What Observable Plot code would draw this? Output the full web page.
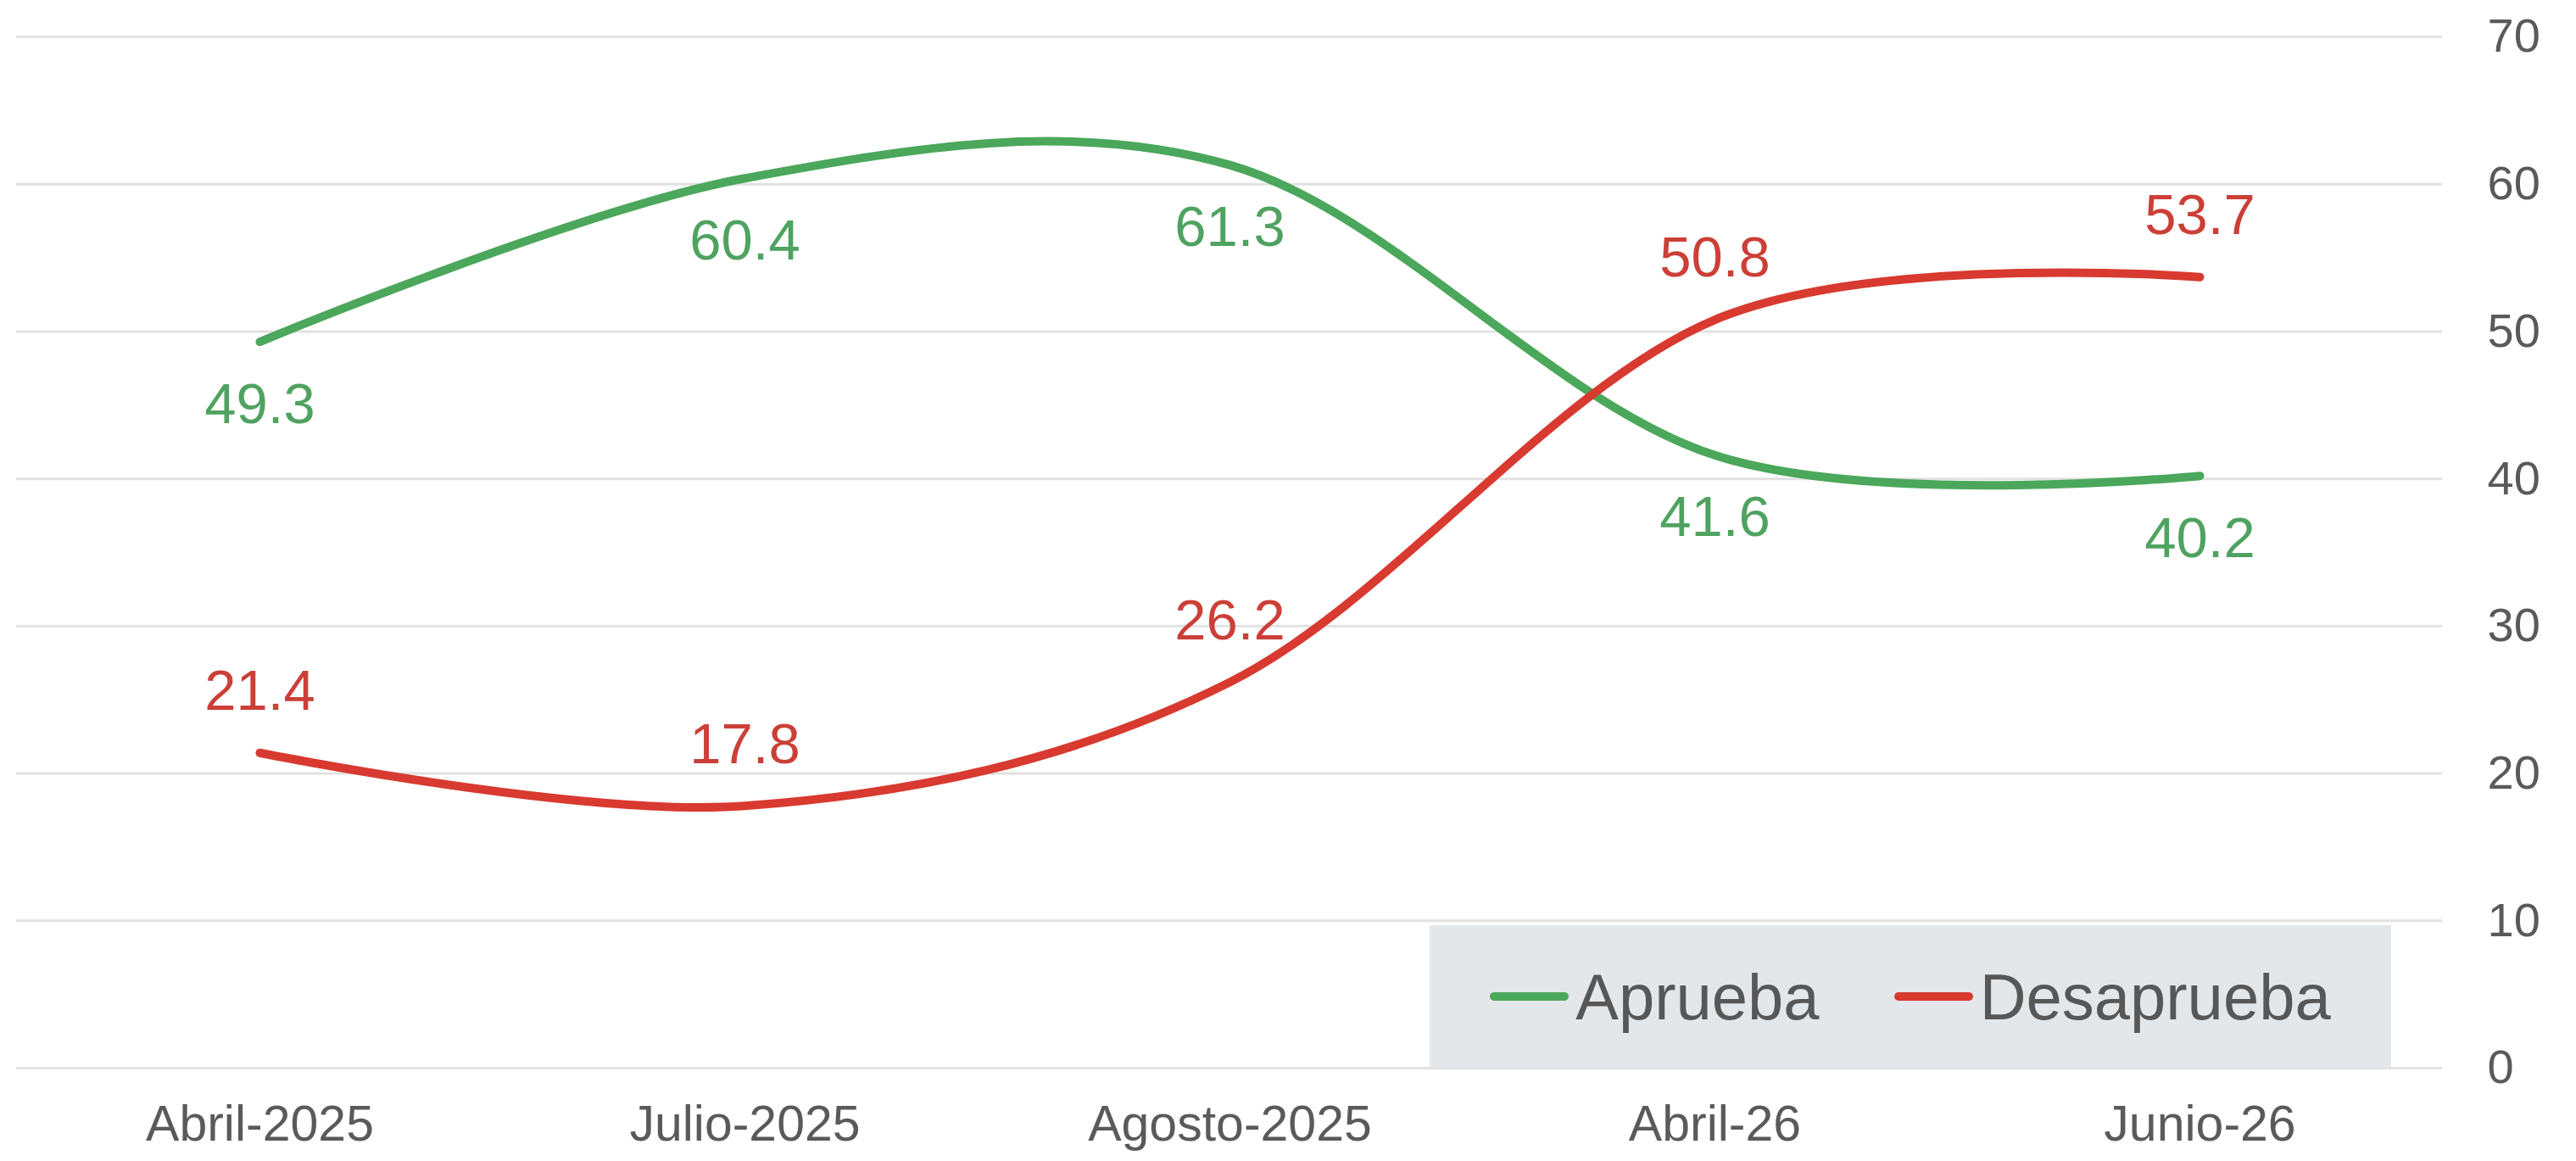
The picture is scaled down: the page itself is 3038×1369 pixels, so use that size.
<!DOCTYPE html>
<html>
<head>
<meta charset="utf-8">
<script src="https://cdn.jsdelivr.net/npm/d3@7"></script>
<script src="https://cdn.jsdelivr.net/npm/@observablehq/plot@0.6"></script>
<style>
  html, body { margin: 0; padding: 0; background: #fff; }
  #wrap { position: relative; width: 3038px; height: 1369px; font-family: "Liberation Sans", Arial, sans-serif; }
  #legend { position: absolute; left: 1686px; top: 1091px; width: 1134px; height: 168px; background: #e4e7ea;
            display: flex; align-items: center; justify-content: center; font-size: 76px; color: #575757; }
  .item { display: flex; align-items: center; }
  .sw { width: 93px; height: 10px; border-radius: 5px; margin-right: 8px; }
</style>
</head>
<body>
<div id="wrap"></div>
<script>
const categories = ["Abril-2025", "Julio-2025", "Agosto-2025", "Abril-26", "Junio-26"];
const aprueba = [49.3, 60.4, 61.3, 41.6, 40.2];
const desaprueba = [21.4, 17.8, 26.2, 50.8, 53.7];
const yTicks = [0, 10, 20, 30, 40, 50, 60, 70];
const seriesNames = ["Aprueba", "Desaprueba"];
const colors = {Aprueba: "#4ba75b", Desaprueba: "#d83a30"};
const labelColors = {Aprueba: "#4fa260", Desaprueba: "#cc3f37"};

const rows = [];
categories.forEach((c, i) => {
  rows.push({cat: c, serie: "Aprueba", value: aprueba[i]});
  rows.push({cat: c, serie: "Desaprueba", value: desaprueba[i]});
});
const ap = rows.filter(d => d.serie === "Aprueba");
const de = rows.filter(d => d.serie === "Desaprueba");
const curve = d3.curveCatmullRom.alpha(0);

const chart = Plot.plot({
  width: 3038,
  height: 1369,
  marginLeft: 19,
  marginRight: 158,
  marginTop: 43,
  marginBottom: 110,
  style: {fontFamily: "Liberation Sans, Arial, sans-serif", background: "#fff"},
  x: {type: "point", domain: categories, padding: 0.5, label: null},
  y: {domain: [0, 70], ticks: yTicks, label: null},
  marks: [
    Plot.gridY(yTicks, {stroke: "#e2e2e2", strokeOpacity: 1, strokeWidth: 3}),
    Plot.axisY(yTicks, {anchor: "right", tickSize: 0, tickPadding: 53, fontSize: 56, fill: "#5a5a5a", textAnchor: "start", label: null}),
    Plot.axisX({tickSize: 0, tickPadding: 44, fontSize: 59, fill: "#5a5a5a", label: null}),
    Plot.line(ap, {x: "cat", y: "value", stroke: colors.Aprueba, strokeWidth: 10, curve}),
    Plot.line(de, {x: "cat", y: "value", stroke: colors.Desaprueba, strokeWidth: 10, curve}),
    Plot.text(ap, {x: "cat", y: "value", text: d => d.value.toFixed(1), dy: 74, fill: labelColors.Aprueba, fontSize: 67}),
    Plot.text(de, {x: "cat", y: "value", text: d => d.value.toFixed(1), dy: -72, fill: labelColors.Desaprueba, fontSize: 67})
  ]
});
const wrap = document.getElementById("wrap");
wrap.appendChild(chart);

const legend = document.createElement("div");
legend.id = "legend";
seriesNames.forEach((s, i) => {
  const it = document.createElement("div");
  it.className = "item";
  if (i > 0) it.style.marginLeft = "88px";
  const sw = document.createElement("div");
  sw.className = "sw";
  sw.style.background = colors[s];
  const t = document.createElement("span");
  t.textContent = s;
  it.appendChild(sw);
  it.appendChild(t);
  legend.appendChild(it);
});
wrap.appendChild(legend);
</script>
</body>
</html>
